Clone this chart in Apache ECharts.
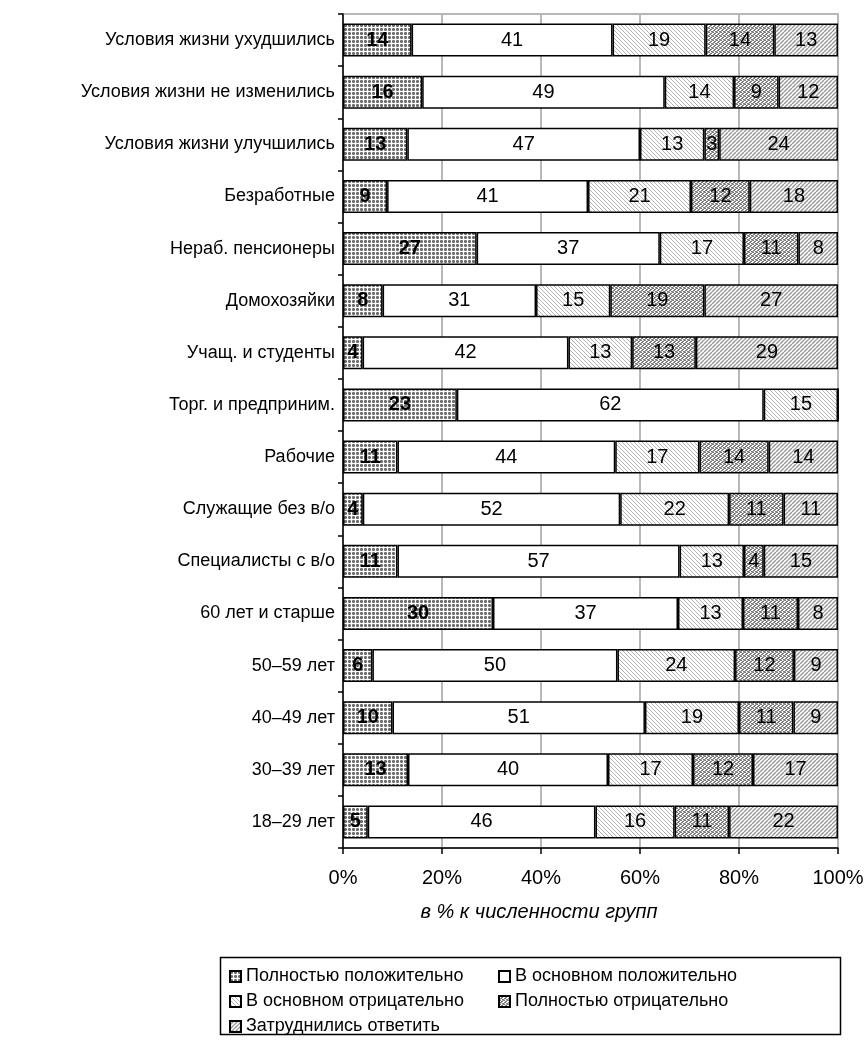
<!DOCTYPE html>
<html>
<head>
<meta charset="utf-8">
<script src="https://cdn.jsdelivr.net/npm/echarts@6/dist/echarts.min.js"></script>
<style>
html,body{margin:0;padding:0;background:#fff;}
#main{width:868px;height:1048px;}
</style>
</head>
<body>
<div id="main"></div>
<script>
var categories = [
  'Условия жизни ухудшились',
  'Условия жизни не изменились',
  'Условия жизни улучшились',
  'Безработные',
  'Нераб. пенсионеры',
  'Домохозяйки',
  'Учащ. и студенты',
  'Торг. и предприним.',
  'Рабочие',
  'Служащие без в/о',
  'Специалисты с в/о',
  '60 лет и старше',
  '50–59 лет',
  '40–49 лет',
  '30–39 лет',
  '18–29 лет'
];
var seriesNames = [
  'Полностью положительно',
  'В основном положительно',
  'В основном отрицательно',
  'Полностью отрицательно',
  'Затруднились ответить'
];
var fullyPositive   = [14, 16, 13,  9, 27,  8,  4, 23, 11,  4, 11, 30,  6, 10, 13,  5];
var mostlyPositive  = [41, 49, 47, 41, 37, 31, 42, 62, 44, 52, 57, 37, 50, 51, 40, 46];
var mostlyNegative  = [19, 14, 13, 21, 17, 15, 13, 15, 17, 22, 13, 13, 24, 19, 17, 16];
var fullyNegative   = [14,  9,  3, 12, 11, 19, 13,  0, 14, 11,  4, 11, 12, 11, 12, 11];
var hardToSay       = [13, 12, 24, 18,  8, 27, 29,  0, 14, 11, 15,  8,  9,  9, 17, 22];
var xTicks = [0, 20, 40, 60, 80, 100];
var axisTitle = 'в % к численности групп';

var raw = [fullyPositive, mostlyPositive, mostlyNegative, fullyNegative, hardToSay];
var totals = categories.map(function(c, i){
  var s = 0; raw.forEach(function(a){ s += a[i]; }); return s;
});

function tile(size, draw){
  var c = document.createElement('canvas');
  c.width = size; c.height = size;
  var ctx = c.getContext('2d');
  ctx.fillStyle = '#fff'; ctx.fillRect(0,0,size,size);
  draw(ctx, size);
  return {image: c, repeat: 'repeat'};
}
var patDots = tile(4, function(ctx){
  ctx.fillStyle = '#6a6a6a';
  ctx.fillRect(0,0,3,3);
  ctx.fillStyle = '#9a9a9a';
  ctx.fillRect(0,0,1,1); ctx.fillRect(2,0,1,1); ctx.fillRect(0,2,1,1); ctx.fillRect(2,2,1,1);
});
var patWhite = '#ffffff';
var patBack = tile(4, function(ctx, s){
  ctx.strokeStyle = '#b4b4b4'; ctx.lineWidth = 1;
  for (var k=-s; k<=s; k+=s){
    ctx.beginPath(); ctx.moveTo(k,0); ctx.lineTo(k+s,s); ctx.stroke();
  }
});
var patFine = tile(4, function(ctx){
  ctx.fillStyle = '#7c7c7c';
  ctx.fillRect(0,0,1,1); ctx.fillRect(2,1,1,1); ctx.fillRect(1,2,1,1); ctx.fillRect(3,3,1,1);
  ctx.fillRect(1,0,1,1); ctx.fillRect(3,1,1,1); ctx.fillRect(0,3,1,1); ctx.fillRect(2,2,1,1);
  ctx.fillStyle = '#b8b8b8';
  ctx.fillRect(3,0,1,1); ctx.fillRect(1,3,1,1);
});
var patFwd = tile(4, function(ctx, s){
  ctx.strokeStyle = '#999999'; ctx.lineWidth = 1.4;
  for (var k=-s; k<=s; k+=s){
    ctx.beginPath(); ctx.moveTo(k,s); ctx.lineTo(k+s,0); ctx.stroke();
  }
});
var patterns = [patDots, patWhite, patBack, patFine, patFwd];

var FONT = '"Liberation Sans", Arial, sans-serif';

var series = raw.map(function(arr, si){
  return {
    name: seriesNames[si],
    type: 'bar',
    stack: 'total',
    barWidth: 33,
    data: arr.map(function(v, i){ return {value: v / totals[i] * 100, raw: v}; }),
    itemStyle: { color: patterns[si], borderColor: '#000', borderWidth: 1.5 },
    emphasis: { disabled: true },
    label: {
      show: true,
      position: 'inside',
      color: '#000',
      fontSize: 20,
      fontFamily: FONT,
      fontWeight: si === 0 ? 'bold' : 'normal',
      formatter: function(p){ return p.data.raw ? String(p.data.raw) : ''; }
    }
  };
});

var legendText = { color: '#000', fontSize: 18, fontFamily: FONT, lineHeight: 21, padding: [0,0,0,0] };

var chart = echarts.init(document.getElementById('main'), null, {renderer: 'canvas'});
chart.setOption({
  animation: false,
  backgroundColor: '#fff',
  grid: { left: 343, right: 30, top: 14, bottom: 200, show: true, borderColor: '#a0a0a0', borderWidth: 1.5 },
  xAxis: {
    type: 'value', min: xTicks[0], max: xTicks[xTicks.length-1], interval: 20,
    axisLine: { show: true, lineStyle: { color: '#000', width: 1.5 } },
    axisTick: { show: true, length: 6, lineStyle: { color: '#000', width: 1.5 } },
    axisLabel: { formatter: '{value}%', color: '#000', fontSize: 20, fontFamily: FONT, margin: 20 },
    splitLine: { show: true, lineStyle: { color: '#b8b8b8', width: 2 } }
  },
  yAxis: {
    type: 'category', data: categories, inverse: true,
    axisLine: { show: true, lineStyle: { color: '#000', width: 1.5 } },
    axisTick: { show: true, length: 5, lineStyle: { color: '#000', width: 1.5 } },
    axisLabel: { color: '#000', fontSize: 18, fontFamily: FONT, margin: 8 }
  },
  legend: [
    {
      orient: 'vertical', left: 224, top: 961,
      data: [seriesNames[0], seriesNames[2], seriesNames[4]],
      itemWidth: 11, itemHeight: 11, itemGap: 4, icon: 'rect',
      selectedMode: false,
      textStyle: legendText
    },
    {
      orient: 'vertical', left: 493, top: 961,
      data: [seriesNames[1], seriesNames[3]],
      itemWidth: 11, itemHeight: 11, itemGap: 4, icon: 'rect',
      selectedMode: false,
      textStyle: legendText
    }
  ],
  graphic: [
    { type: 'rect', left: 218, top: 955, shape: { width: 620, height: 77 },
      style: { fill: 'none', stroke: '#000', lineWidth: 1.5 }, z: 0 },
    { type: 'text', x: 539, y: 912,
      style: { text: axisTitle, fill: '#000', font: 'italic 20px ' + FONT, align: 'center', verticalAlign: 'middle' } }
  ],
  series: series
});
</script>
</body>
</html>
